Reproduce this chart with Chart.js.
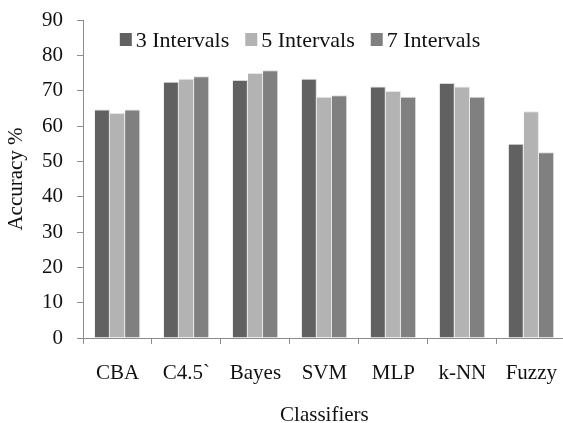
<!DOCTYPE html>
<html>
<head>
<meta charset="utf-8">
<script src="https://cdn.jsdelivr.net/npm/chart.js@4"></script>
<style>
  html, body { margin: 0; padding: 0; background: #fff; overflow: hidden; }
  #wrap { width: 574px; height: 428px; }
</style>
</head>
<body>
<div id="wrap"><canvas id="grafico"></canvas></div>
<script>
const classifiers = ['CBA', 'C4.5`', 'Bayes', 'SVM', 'MLP', 'k-NN', 'Fuzzy'];
const intervals3 = [64.7, 72.5, 73.0, 73.4, 71.2, 72.2, 55.0];
const intervals5 = [63.7, 73.4, 75.0, 68.3, 69.9, 71.2, 64.2];
const intervals7 = [64.7, 74.1, 75.8, 68.7, 68.3, 68.3, 52.6];
const yTicks = [0, 10, 20, 30, 40, 50, 60, 70, 80, 90];

const serif = "'Liberation Serif', 'Times New Roman', serif";
const axisGray = '#8c8c8c';

// legenda desenhada à mão, dentro da área do gráfico
const legendaInterna = {
    id: 'legendaInterna',
    afterDraw(chart) {
        const c = chart.ctx;
        const box = 12, gapTexto = 4, gapItem = 16;
        c.save();
        c.font = '22px ' + serif;
        c.textBaseline = 'middle';
        const itens = chart.data.datasets.map(ds => ({ cor: ds.backgroundColor, texto: ds.label, w: c.measureText(ds.label).width }));
        let total = itens.reduce((s, it) => s + box + gapTexto + it.w, 0) + gapItem * (itens.length - 1);
        let x = chart.chartArea.left + 217 - total / 2;
        const y = chart.chartArea.top + 20;
        itens.forEach(it => {
            c.fillStyle = it.cor;
            c.fillRect(x, y - box / 2 - 1, box, box + 1);
            c.fillStyle = '#111';
            c.fillText(it.texto, x + box + gapTexto, y + 1);
            x += box + gapTexto + it.w + gapItem;
        });
        c.restore();
    }
};

const ctx = document.getElementById('grafico');

let chart = new Chart(ctx, {
    type: 'bar',
    data: {
        labels: classifiers,
        datasets: [
            { label: '3 Intervals', data: intervals3, backgroundColor: '#616161', borderColor: '#d8d8d8', borderWidth: { top: 1, right: 1 } },
            { label: '5 Intervals', data: intervals5, backgroundColor: '#b3b3b3', borderColor: '#e6e6e6', borderWidth: { top: 1, right: 1 } },
            { label: '7 Intervals', data: intervals7, backgroundColor: '#808080', borderColor: '#dcdcdc', borderWidth: { top: 1, right: 1 } }
        ]
    },
    plugins: [legendaInterna],
    options: {
        responsive: true,
        maintainAspectRatio: false,
        animation: false,
        layout: { padding: { top: 20, right: 0, left: 0, bottom: 0 } },
        datasets: { bar: { categoryPercentage: 0.66, barPercentage: 1.0 } },
        plugins: {
            tooltip: { enabled: false },
            legend: { display: false }
        },
        scales: {
            x: {
                afterFit: s => { s.height = 90; },
                grid: { display: true, drawOnChartArea: false, drawTicks: true, tickLength: 6, color: axisGray, offset: true },
                border: { color: axisGray, width: 1 },
                ticks: { color: '#111', font: { family: serif, size: 21 }, padding: 17, maxRotation: 0 },
                title: { display: true, text: 'Classifiers', color: '#111', font: { family: serif, size: 21 }, padding: { top: 0, bottom: 0 } }
            },
            y: {
                min: 0,
                max: 90,
                afterFit: s => { s.width = 83; s.paddingTop = 0; s.paddingBottom = 0; },
                afterBuildTicks: s => { s.ticks = yTicks.map(v => ({ value: v })); },
                grid: { display: true, drawOnChartArea: false, drawTicks: true, tickLength: 6, color: axisGray },
                border: { color: axisGray, width: 1 },
                ticks: { color: '#111', font: { family: serif, size: 21 }, padding: 14 },
                title: { display: true, text: 'Accuracy %', color: '#111', font: { family: serif, size: 21 }, padding: { top: 4, bottom: 0 } }
            }
        }
    }
});
</script>
</body>
</html>
